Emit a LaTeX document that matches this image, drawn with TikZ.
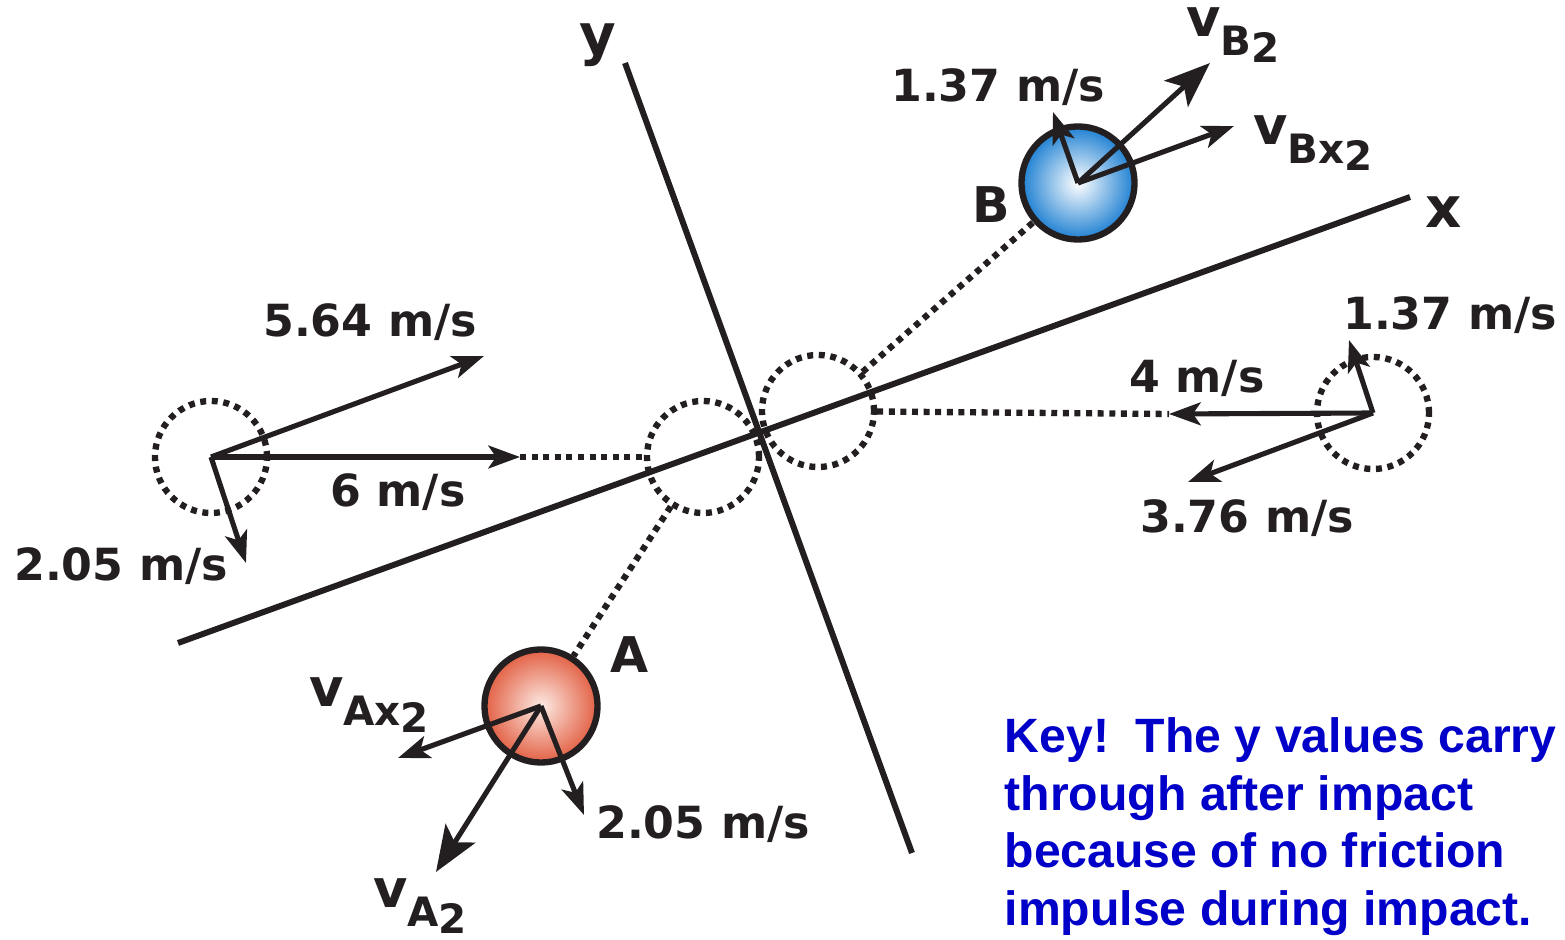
\documentclass[tikz,border=0pt]{standalone}
\usepackage{fontspec}
\newfontfamily\lblfont{DejaVu Sans}
\newfontfamily\keyfont{Liberation Sans}
\usetikzlibrary{arrows.meta}
\definecolor{ink}{RGB}{35,31,32}
\definecolor{keyblue}{RGB}{0,0,200}
\definecolor{ballblue}{RGB}{30,128,210}
\definecolor{ballred}{RGB}{226,96,68}
\definecolor{redcore}{RGB}{253,235,228}
\newcommand{\vsub}[2]{{\fontsize{15}{15}\selectfont v}\raisebox{-5.5pt}{\fontsize{11.5}{11.5}\selectfont #1\raisebox{-2pt}{#2}}}

\tikzset{
  axisline/.style={draw=ink, line width=1.7pt},
  vec/.style={draw=ink, line width=1.45pt, ->},
  res/.style={draw=ink, line width=1.45pt, -{Stealth[length=13pt, width=10pt, inset=3pt]}},
  dotline/.style={draw=ink, line width=1.8pt, dash pattern=on 1.7pt off 1.6pt},
  ghost/.style={circle, dotline, minimum size=1.12cm, inner sep=0pt},
  ball/.style 2 args={circle, draw=ink, line width=1.8pt, minimum size=1.13cm, inner sep=0pt, inner color=#1, outer color=#2},
  lbl/.style={font=\lblfont\bfseries\fontsize{12.6}{14}\selectfont, text=ink, inner sep=0pt},
}

\begin{document}
\begin{tikzpicture}[x=0.01cm, y=-0.01cm, >={Stealth[length=9pt, width=6.5pt, inset=2.2pt]}]
  \useasboundingbox (0,0) rectangle (1565,940);

  % before and at impact
  \node[ghost] (L) at (211,457) {};
  \node[ghost] (R) at (1373,413) {};
  \node[ghost] (cA) at (703,457) {};
  \node[ghost] (cB) at (818,411) {};

  % after impact
  \node[ball={white}{ballblue}] (ballB) at (1078,183) {};
  \node[ball={redcore}{ballred}] (ballA) at (541,706) {};

  % axes
  \coordinate (xs) at (178,643);
  \coordinate (xe) at (1410,197);
  \coordinate (ys) at (625,63);
  \coordinate (ye) at (912,853);
  \draw[axisline] (xs) -- (xe);
  \draw[axisline] (ys) -- (ye);

  % tips
  \coordinate (tL6) at (520,457);
  \coordinate (tLx) at (484,356);
  \coordinate (tLy) at (246,563);
  \coordinate (tR4) at (1169,414);
  \coordinate (tRx) at (1188,482);
  \coordinate (tRy) at (1349,340);
  \coordinate (tBy) at (1053,112);
  \coordinate (tBx) at (1234,126);
  \coordinate (tB) at (1210,63);
  \coordinate (tAx) at (398,758);
  \coordinate (tA) at (436,872);
  \coordinate (tAy) at (584,815);

  \draw[dotline] (tL6) -- (cA);
  \draw[dotline] (cB) -- (tR4);
  \draw[dotline] (cA) -- (ballA);
  \draw[dotline] (cB) -- (ballB);

  \draw[vec] (L.center) -- (tL6);
  \draw[vec] (L.center) -- (tLx);
  \draw[vec] (L.center) -- (tLy);
  \draw[vec] (R.center) -- (tR4);
  \draw[vec] (R.center) -- (tRx);
  \draw[vec] (R.center) -- (tRy);
  \draw[vec] (ballB.center) -- (tBy);
  \draw[vec] (ballB.center) -- (tBx);
  \draw[res] (ballB.center) -- (tB);
  \draw[vec] (ballA.center) -- (tAx);
  \draw[res] (ballA.center) -- (tA);
  \draw[vec] (ballA.center) -- (tAy);

  % labels
  \node[lbl] (lLx) at (370,322) {5.64 m/s};
  \node[lbl] (lL6) at (398,492) {6 m/s};
  \node[lbl] (lLy) at (121,566) {2.05 m/s};
  \node[lbl] (lRy) at (1450,315) {1.37 m/s};
  \node[lbl] (lR4) at (1197,378) {4 m/s};
  \node[lbl] (lRx) at (1247,518) {3.76 m/s};
  \node[lbl] (lBy) at (998,87) {1.37 m/s};
  \node[lbl] (lAy) at (703,824) {2.05 m/s};
  \node[lbl] (lB) at (1233,35) {\vsub{B}{2}};
  \node[lbl] (lBx) at (1313,143) {\vsub{Bx}{2}};
  \node[lbl] (lAx) at (369,705) {\vsub{Ax}{2}};
  \node[lbl] (lA) at (420,906) {\vsub{A}{2}};
  \node[lbl, font=\lblfont\bfseries\fontsize{14}{14}\selectfont] (nA) at (630,655) {A};
  \node[lbl, font=\lblfont\bfseries\fontsize{14}{14}\selectfont] (nB) at (991,205) {B};
  \node[lbl, font=\lblfont\bfseries\fontsize{16}{16}\selectfont] (ax) at (1444,212) {x};
  \node[lbl, font=\lblfont\bfseries\fontsize{16}{16}\selectfont] (ay) at (598,45) {y};

  \node[anchor=north west, align=left, inner sep=0pt, text=keyblue,
        font=\keyfont\bfseries\fontsize{13.7}{16.4}\selectfont] (key) at (1004,717)
        {Key!\ \ The y values carry\\through after impact\\because of no friction\\impulse during impact.};
\end{tikzpicture}
\end{document}
